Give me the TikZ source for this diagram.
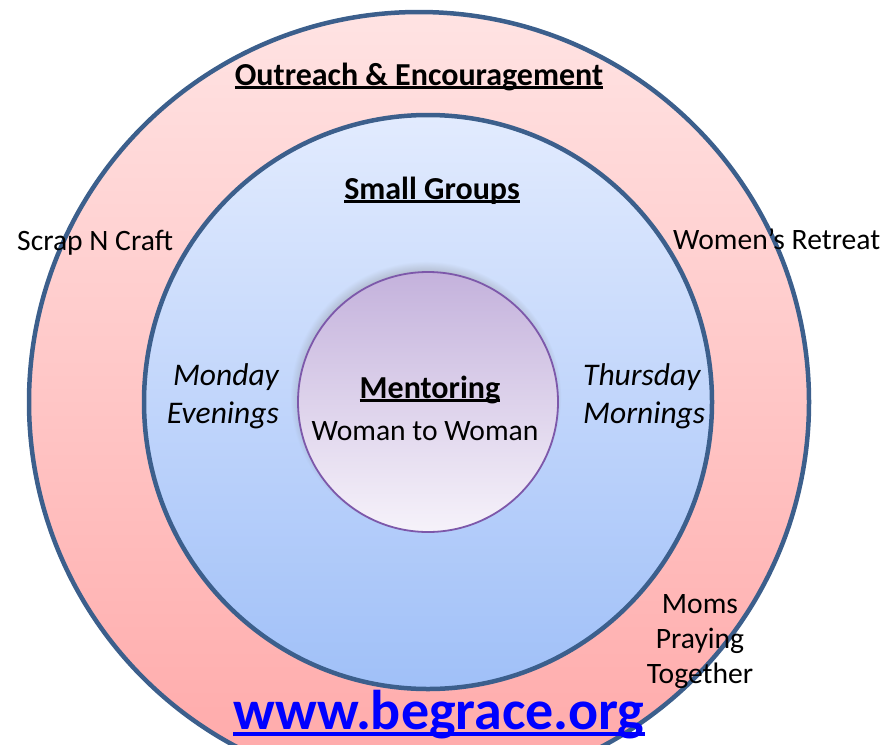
\documentclass[tikz,border=0pt]{standalone}
\usepackage{fontspec}
\setmainfont{Carlito}
\usetikzlibrary{shadows}
\usepackage{xcolor}
\definecolor{ringline}{RGB}{60,95,140}
\definecolor{outertop}{RGB}{255,227,227}
\definecolor{outerbot}{RGB}{255,168,168}
\definecolor{midtop}{RGB}{226,235,254}
\definecolor{midbot}{RGB}{160,192,248}
\definecolor{mentortop}{RGB}{196,178,220}
\definecolor{mentorbot}{RGB}{246,242,250}
\definecolor{mentorline}{RGB}{125,88,170}
\definecolor{linkblue}{RGB}{0,0,255}

% underline that grows with the font
\newcommand{\ultext}[1]{\setbox0\hbox{#1}\rlap{\rule[-0.12em]{\wd0}{0.075em}}\box0}

\tikzset{
  ring/.style={draw=ringline, line width=4.5pt},
  headtxt/.style={anchor=base, inner sep=0pt, font=\bfseries\fontsize{32}{38}\selectfont},
  bodytxt/.style={inner sep=0pt, font=\fontsize{29.6}{35}\selectfont},
  daytxt/.style={inner sep=0pt, font=\itshape\fontsize{31.5}{38}\selectfont}
}

\begin{document}
\begin{tikzpicture}[x=1pt, y=-1pt]
    \useasboundingbox (0,0) rectangle (885,744);
    \clip (0,0) rectangle (885,744);

    % rings
    \path[ring, top color=outertop, bottom color=outerbot] (419,402) circle [radius=390pt];
    \path[ring, top color=midtop, bottom color=midbot] (428,402) ellipse [x radius=284pt, y radius=287pt];
    \path[draw=mentorline, line width=1.8pt, top color=mentortop, bottom color=mentorbot,
          circular drop shadow={shadow xshift=-2pt, shadow yshift=5pt, shadow scale=1.04, opacity=0.65}]
          (428,402) circle [radius=130pt];

    % labels
    \node[headtxt] (outreach) at (419,85) {\ultext{Outreach \& Encouragement}};
    \node[headtxt] (groups) at (432,199) {\ultext{Small Groups}};
    \node[headtxt] (mentor) at (430,398) {\ultext{Mentoring}};
    \node[bodytxt, anchor=base] (woman) at (425,440) {Woman to Woman};

    \node[bodytxt, anchor=base west] (scrap) at (17,250) {Scrap N Craft};
    \node[bodytxt, anchor=base west] (retreat) at (673,249) {Women’s Retreat};
    \node[bodytxt, anchor=base, align=center] (moms) at (700,683) {Moms\\Praying\\Together};

    \node[daytxt, anchor=base east, align=right] (monday) at (279,423) {Monday\\Evenings};
    \node[daytxt, anchor=base west, align=left] (thursday) at (583,423) {Thursday\\Mornings};

    \node[anchor=base, inner sep=0pt, text=linkblue, font=\bfseries\fontsize{56}{60}\selectfont] (site) at (439,729) {\ultext{www.begrace.org}};
\end{tikzpicture}
\end{document}
